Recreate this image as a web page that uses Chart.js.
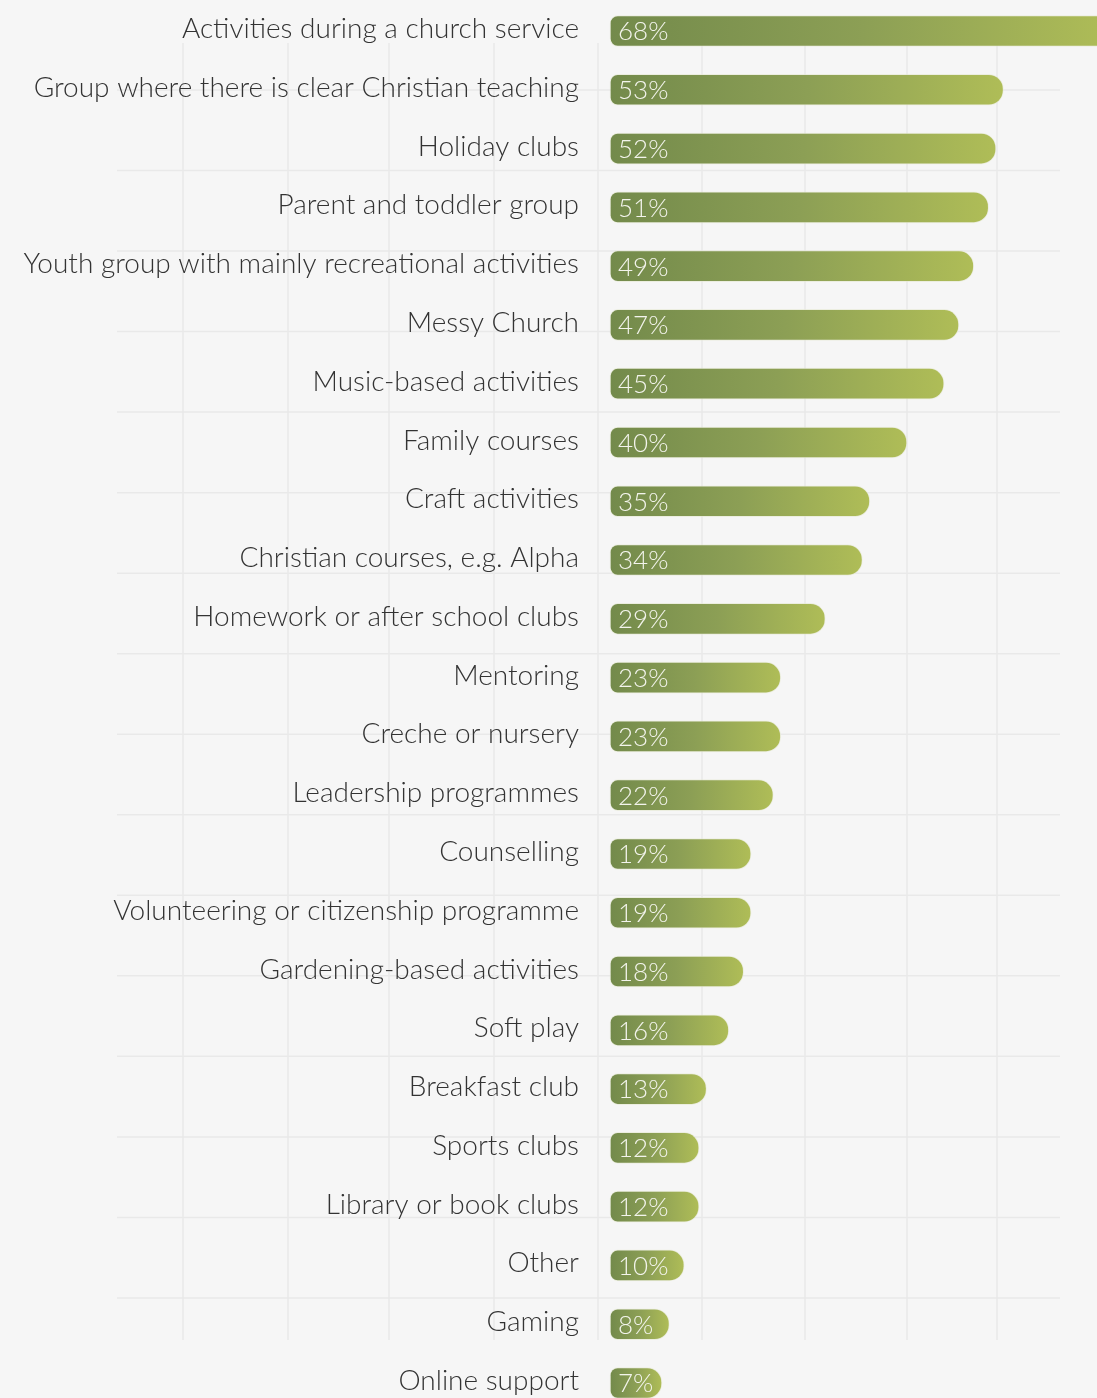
<!DOCTYPE html>
<html>
<head>
<meta charset="utf-8">
<title>Activities offered</title>
<script src="https://cdn.jsdelivr.net/npm/chart.js@4.4.1/dist/chart.umd.min.js"></script>
<style>
  html, body { margin: 0; padding: 0; background: #f6f6f6; }
  #wrap { position: relative; width: 1097px; height: 1398px; }
</style>
</head>
<body>
<div id="wrap"><canvas id="chart" width="1097" height="1398"></canvas></div>
<script>
// Activities, share of respondents (%)
const categories = [
  "Activities during a church service",
  "Group where there is clear Christian teaching",
  "Holiday clubs",
  "Parent and toddler group",
  "Youth group with mainly recreational activities",
  "Messy Church",
  "Music-based activities",
  "Family courses",
  "Craft activities",
  "Christian courses, e.g. Alpha",
  "Homework or after school clubs",
  "Mentoring",
  "Creche or nursery",
  "Leadership programmes",
  "Counselling",
  "Volunteering or citizenship programme",
  "Gardening-based activities",
  "Soft play",
  "Breakfast club",
  "Sports clubs",
  "Library or book clubs",
  "Other",
  "Gaming",
  "Online support"
];
const values = [68, 53, 52, 51, 49, 47, 45, 40, 35, 34, 29, 23, 23, 22, 19, 19, 18, 16, 13, 12, 12, 10, 8, 7];
const valueLabels = values.map(v => v + "%");

const FONT = "Lato, 'Open Sans', sans-serif";

// Faint background lattice behind the bars
const backdropGrid = {
  id: 'backdropGrid',
  beforeDraw(chart) {
    const ctx = chart.ctx;
    ctx.save();
    ctx.fillStyle = '#f6f6f6';
    ctx.fillRect(0, 0, chart.width, chart.height);
    ctx.strokeStyle = '#e9e9e9';
    ctx.lineWidth = 1.5;
    const cols = [183, 288, 389, 494, 598, 702, 805, 907, 997];
    cols.forEach(x => {
      ctx.beginPath(); ctx.moveTo(x, 43); ctx.lineTo(x, 1340); ctx.stroke();
    });
    for (let k = 0; k < 16; k++) {
      const y = 90 + k * 80.53;
      ctx.beginPath(); ctx.moveTo(117, y); ctx.lineTo(1060, y); ctx.stroke();
    }
    ctx.restore();
  }
};

// Percentage text drawn inside the start of each bar
const barValueText = {
  id: 'barValueText',
  afterDatasetsDraw(chart) {
    const ctx = chart.ctx;
    const meta = chart.getDatasetMeta(0);
    ctx.save();
    ctx.font = "300 26px " + FONT;
    ctx.fillStyle = '#f3f4ec';
    ctx.textAlign = 'left';
    ctx.textBaseline = 'middle';
    meta.data.forEach((bar, i) => {
      ctx.fillText(valueLabels[i], bar.base + 8, bar.y + 1);
    });
    ctx.restore();
  }
};

function barGradient(context) {
  const chart = context.chart;
  if (!chart.chartArea) return '#8a9d52';
  const xs = chart.scales.x;
  const x0 = xs.getPixelForValue(0);
  const x1 = xs.getPixelForValue(context.raw);
  const g = chart.ctx.createLinearGradient(x0, 0, x1, 0);
  g.addColorStop(0, '#738a4b');
  g.addColorStop(0.5, '#8c9f55');
  g.addColorStop(1, '#afbd57');
  return g;
}

new Chart(document.getElementById('chart'), {
  type: 'bar',
  data: {
    labels: categories,
    datasets: [{
      data: values,
      backgroundColor: barGradient,
      borderColor: 'rgba(230,234,210,0.6)',
      borderWidth: 1,
      borderSkipped: false,
      borderRadius: { topLeft: 8, bottomLeft: 8, topRight: 15, bottomRight: 15 },
      barThickness: 31,
      clip: false
    }]
  },
  options: {
    indexAxis: 'y',
    responsive: false,
    animation: false,
    devicePixelRatio: 1,
    layout: { padding: { top: 31, bottom: 15, left: 0, right: 0 } },
    plugins: {
      legend: { display: false },
      tooltip: { enabled: false }
    },
    scales: {
      x: {
        display: false,
        min: 0,
        max: 65.6
      },
      y: {
        type: 'category',
        offset: false,
        grid: { display: false, drawTicks: false },
        border: { display: false },
        afterFit(scale) {
          scale.width = 610;
          scale.paddingTop = 0;
          scale.paddingBottom = 0;
        },
        ticks: {
          padding: 31,
          labelOffset: -2,
          color: '#333333',
          font: { family: FONT, size: 28, weight: 300 }
        }
      }
    }
  },
  plugins: [backdropGrid, barValueText]
});
</script>
</body>
</html>
